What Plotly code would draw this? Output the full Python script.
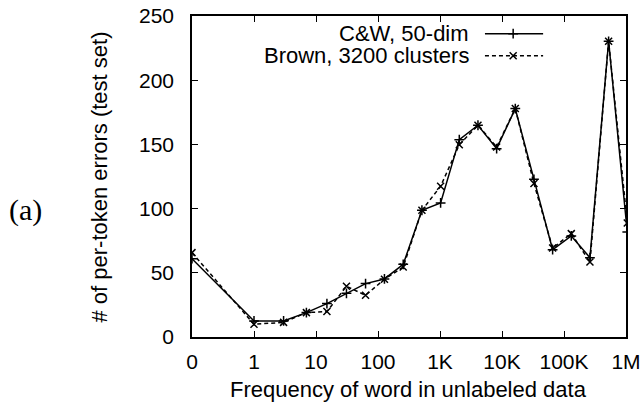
import numpy as np
import plotly.graph_objects as go

# Frequency bins (word count in unlabeled data)
freq = [0, 1, 3, 7, 15, 31, 63, 127, 255, 511, 1023, 2047, 4095, 8191,
        16383, 32767, 65535, 131071, 262143, 524287, 1048575]
cw_errors = [61, 12.5, 12.5, 19, 26, 34, 41.6, 45.2, 56.6, 98.7, 104.4,
             153.7, 164.9, 146.7, 177.9, 122.8, 68, 78.7, 61.8, 230.3, 81.8]
brown_errors = [65.7, 9.9, 11.4, 19, 19.8, 39.5, 32.5, 45, 54.5, 98.7, 117.4,
                149.8, 164.9, 148, 177.9, 119.5, 69.3, 80.5, 58.4, 230.3, 88.8]
series_names = ["C&W, 50-dim", "Brown, 3200 clusters"]
xtick_labels = ["0", "1", "10", "100", "1K", "10K", "100K", "1M"]
x_title = "Frequency of word in unlabeled data"
y_title = "# of per-token errors (test set)"

# axis position: 0 -> 0, otherwise 1 + log10(f)
xpos = [0 if f == 0 else 1 + np.log10(f) for f in freq]

FONT = "Liberation Sans, Arial, sans-serif"
FS = 22
TFS = 21
MS = 7
fig = go.Figure()
fig.add_trace(go.Scatter(
    x=xpos, y=cw_errors, mode="lines+markers", name=series_names[0],
    line=dict(color="black", width=1.5),
    marker=dict(symbol="cross-thin", size=MS, line=dict(color="black", width=1.5)),
    showlegend=False))
fig.add_trace(go.Scatter(
    x=xpos, y=brown_errors, mode="lines+markers", name=series_names[1],
    line=dict(color="black", width=1.5, dash="4px,3px"),
    marker=dict(symbol="x-thin", size=MS, line=dict(color="black", width=1.5)),
    showlegend=False))

# gnuplot-style key (text then sample) on an overlay axis in paper units
key_y = [0.945, 0.876]
key_x = [0.675, 0.74, 0.809]
fig.add_trace(go.Scatter(
    x=key_x, y=[key_y[0]] * 3, xaxis="x2", yaxis="y2", mode="lines",
    line=dict(color="black", width=1.5), showlegend=False, hoverinfo="skip"))
fig.add_trace(go.Scatter(
    x=[key_x[1]], y=[key_y[0]], xaxis="x2", yaxis="y2", mode="markers",
    marker=dict(symbol="cross-thin", size=MS, line=dict(color="black", width=1.5)),
    showlegend=False, hoverinfo="skip"))
fig.add_trace(go.Scatter(
    x=key_x, y=[key_y[1]] * 3, xaxis="x2", yaxis="y2", mode="lines",
    line=dict(color="black", width=1.5, dash="4px,3px"), showlegend=False, hoverinfo="skip"))
fig.add_trace(go.Scatter(
    x=[key_x[1]], y=[key_y[1]], xaxis="x2", yaxis="y2", mode="markers",
    marker=dict(symbol="x-thin", size=MS, line=dict(color="black", width=1.5)),
    showlegend=False, hoverinfo="skip"))
for name, yy in zip(series_names, key_y):
    fig.add_annotation(x=0.643, y=yy, xref="paper", yref="paper", text=name,
                       showarrow=False, xanchor="right", yanchor="middle",
                       font=dict(family=FONT, size=FS, color="black"))

# axis titles
fig.add_annotation(x=0.499, y=-0.2097, xref="paper", yref="paper", text=x_title,
                   showarrow=False, xanchor="center", yanchor="bottom",
                   font=dict(family=FONT, size=FS, color="black"))
fig.add_annotation(x=-0.212, y=0.5, xref="paper", yref="paper", text=y_title,
                   showarrow=False, xanchor="center", yanchor="middle", textangle=-90,
                   font=dict(family=FONT, size=FS, color="black"))

fig.add_annotation(x=-0.383, y=0.395, xref="paper", yref="paper", text="(a)",
                   showarrow=False, xanchor="center", yanchor="middle",
                   font=dict(family="Liberation Serif, Times New Roman, serif", size=30, color="black"))

axis_common = dict(showline=True, linecolor="black", linewidth=1.5, mirror="allticks",
                   ticks="inside", ticklen=6, tickwidth=1.2, tickcolor="black",
                   showgrid=False, zeroline=False, automargin=False,
                   tickfont=dict(family=FONT, size=TFS, color="black"))
fig.update_layout(
    width=641, height=405,
    margin=dict(l=192, r=15, t=16, b=68),
    paper_bgcolor="white", plot_bgcolor="white",
    xaxis=dict(range=[0, 7], tickvals=list(range(8)), ticktext=xtick_labels,
               ticklabelstandoff=5, ticklabeloverflow="allow", **axis_common),
    yaxis=dict(range=[0, 250], tickvals=[0, 50, 100, 150, 200, 250],
               ticklabelstandoff=12, **axis_common),
    xaxis2=dict(range=[0, 1], overlaying="x", visible=False),
    yaxis2=dict(range=[0, 1], overlaying="y", visible=False),
)
fig.write_html("out.html")
